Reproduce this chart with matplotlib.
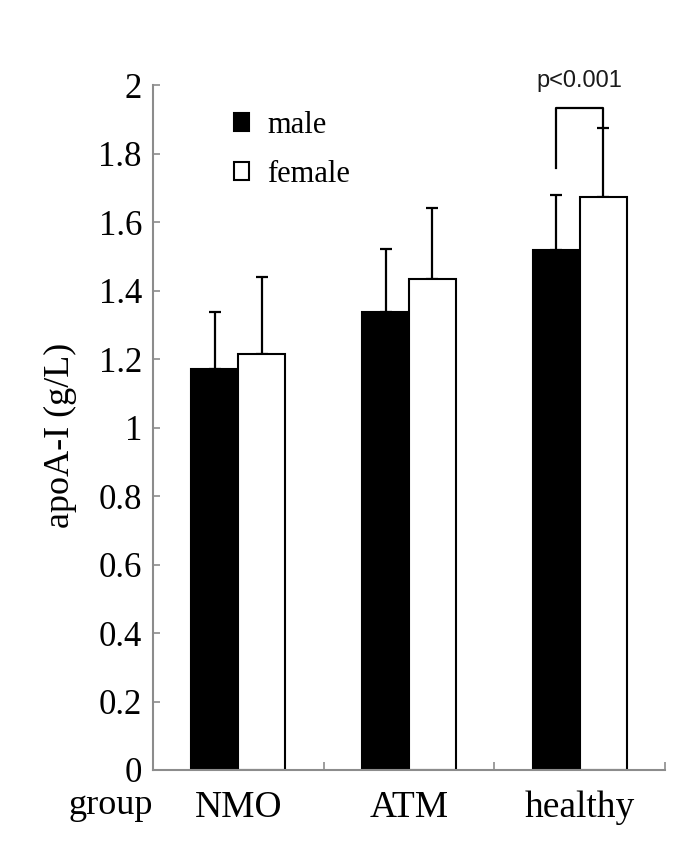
import matplotlib
matplotlib.use("Agg")
import matplotlib.pyplot as plt
import numpy as np

categories = ["NMO", "ATM", "healthy"]
male_mean = [1.170, 1.338, 1.517]
male_err = [0.168, 0.184, 0.162]
female_mean = [1.214, 1.434, 1.673]
female_err = [0.225, 0.207, 0.202]
yticks = [0, 0.2, 0.4, 0.6, 0.8, 1, 1.2, 1.4, 1.6, 1.8, 2]
ytick_labels = ["0", "0.2", "0.4", "0.6", "0.8", "1", "1.2", "1.4", "1.6", "1.8", "2"]
sig_text = "p<0.001"
sig_low, sig_top = 1.757, 1.932

serif = ["Liberation Serif", "DejaVu Serif"]
plt.rcParams["font.family"] = serif

fig = plt.figure(figsize=(6.91, 8.48), dpi=100)
ax = fig.add_axes([153 / 691, 1 - 770 / 848, 512 / 691, 685 / 848])

x = np.arange(len(categories))
w = 0.275
bm = ax.bar(x - w / 2, male_mean, w, color="black", edgecolor="black", linewidth=1.5, label="male", zorder=2)
bf = ax.bar(x + w / 2, female_mean, w, color="white", edgecolor="black", linewidth=1.5, label="female", zorder=2)
ax.errorbar(x - w / 2, male_mean, yerr=[np.zeros(3), male_err], fmt="none", ecolor="black",
            elinewidth=1.6, capsize=4.5, capthick=1.6, zorder=1)
ax.errorbar(x + w / 2, female_mean, yerr=[np.zeros(3), female_err], fmt="none", ecolor="black",
            elinewidth=1.6, capsize=4.5, capthick=1.6, zorder=1)

# significance bracket for healthy group
xm, xf = x[2] - w / 2, x[2] + w / 2
ax.plot([xm, xm, xf, xf], [sig_low, sig_top, sig_top, female_mean[2] + female_err[2]],
        color="black", lw=1.6, clip_on=False, zorder=3)
ax.text((xm + xf) / 2, 2.013, sig_text, ha="center", va="center", fontsize=17,
        family=["Liberation Sans", "DejaVu Sans"], color="#1a1a1a")

ax.set_xlim(-0.5, 2.5)
ax.set_ylim(0, 2)
ax.set_yticks(yticks)
ax.set_yticklabels(ytick_labels)
ax.set_xticks([0.5, 1.5, 2.5])
ax.set_xticklabels([])
ax.set_xticks(x, minor=True)
ax.set_xticklabels(categories, minor=True)

for s in ["top", "right"]:
    ax.spines[s].set_visible(False)
for s in ["left", "bottom"]:
    ax.spines[s].set_color("#8c8c8c")
    ax.spines[s].set_linewidth(1.5)

ax.tick_params(axis="y", direction="in", length=5, width=1.2, color="#8c8c8c",
               labelsize=25, pad=8)
ax.tick_params(axis="x", which="major", direction="in", length=6, width=1.2, color="#8c8c8c")
ax.tick_params(axis="x", which="minor", length=0, labelsize=27, pad=15)

ax.annotate("group", xy=(0, 0), xycoords="axes fraction", xytext=(0, -32),
            textcoords="offset points", ha="right", va="baseline", fontsize=26)

ax.set_ylabel("apoA-I (g/L)", fontsize=26)
ax.yaxis.set_label_coords(-0.148, 0.488)

ax.legend(handles=[bm, bf], labels=["male", "female"], frameon=False, fontsize=22,
          handlelength=0.5, handleheight=0.5, handletextpad=0.6, labelspacing=0.65,
          borderpad=0, borderaxespad=0, loc="upper left", bbox_to_anchor=(0.158, 0.962))

fig.savefig("out.png", dpi=100)
